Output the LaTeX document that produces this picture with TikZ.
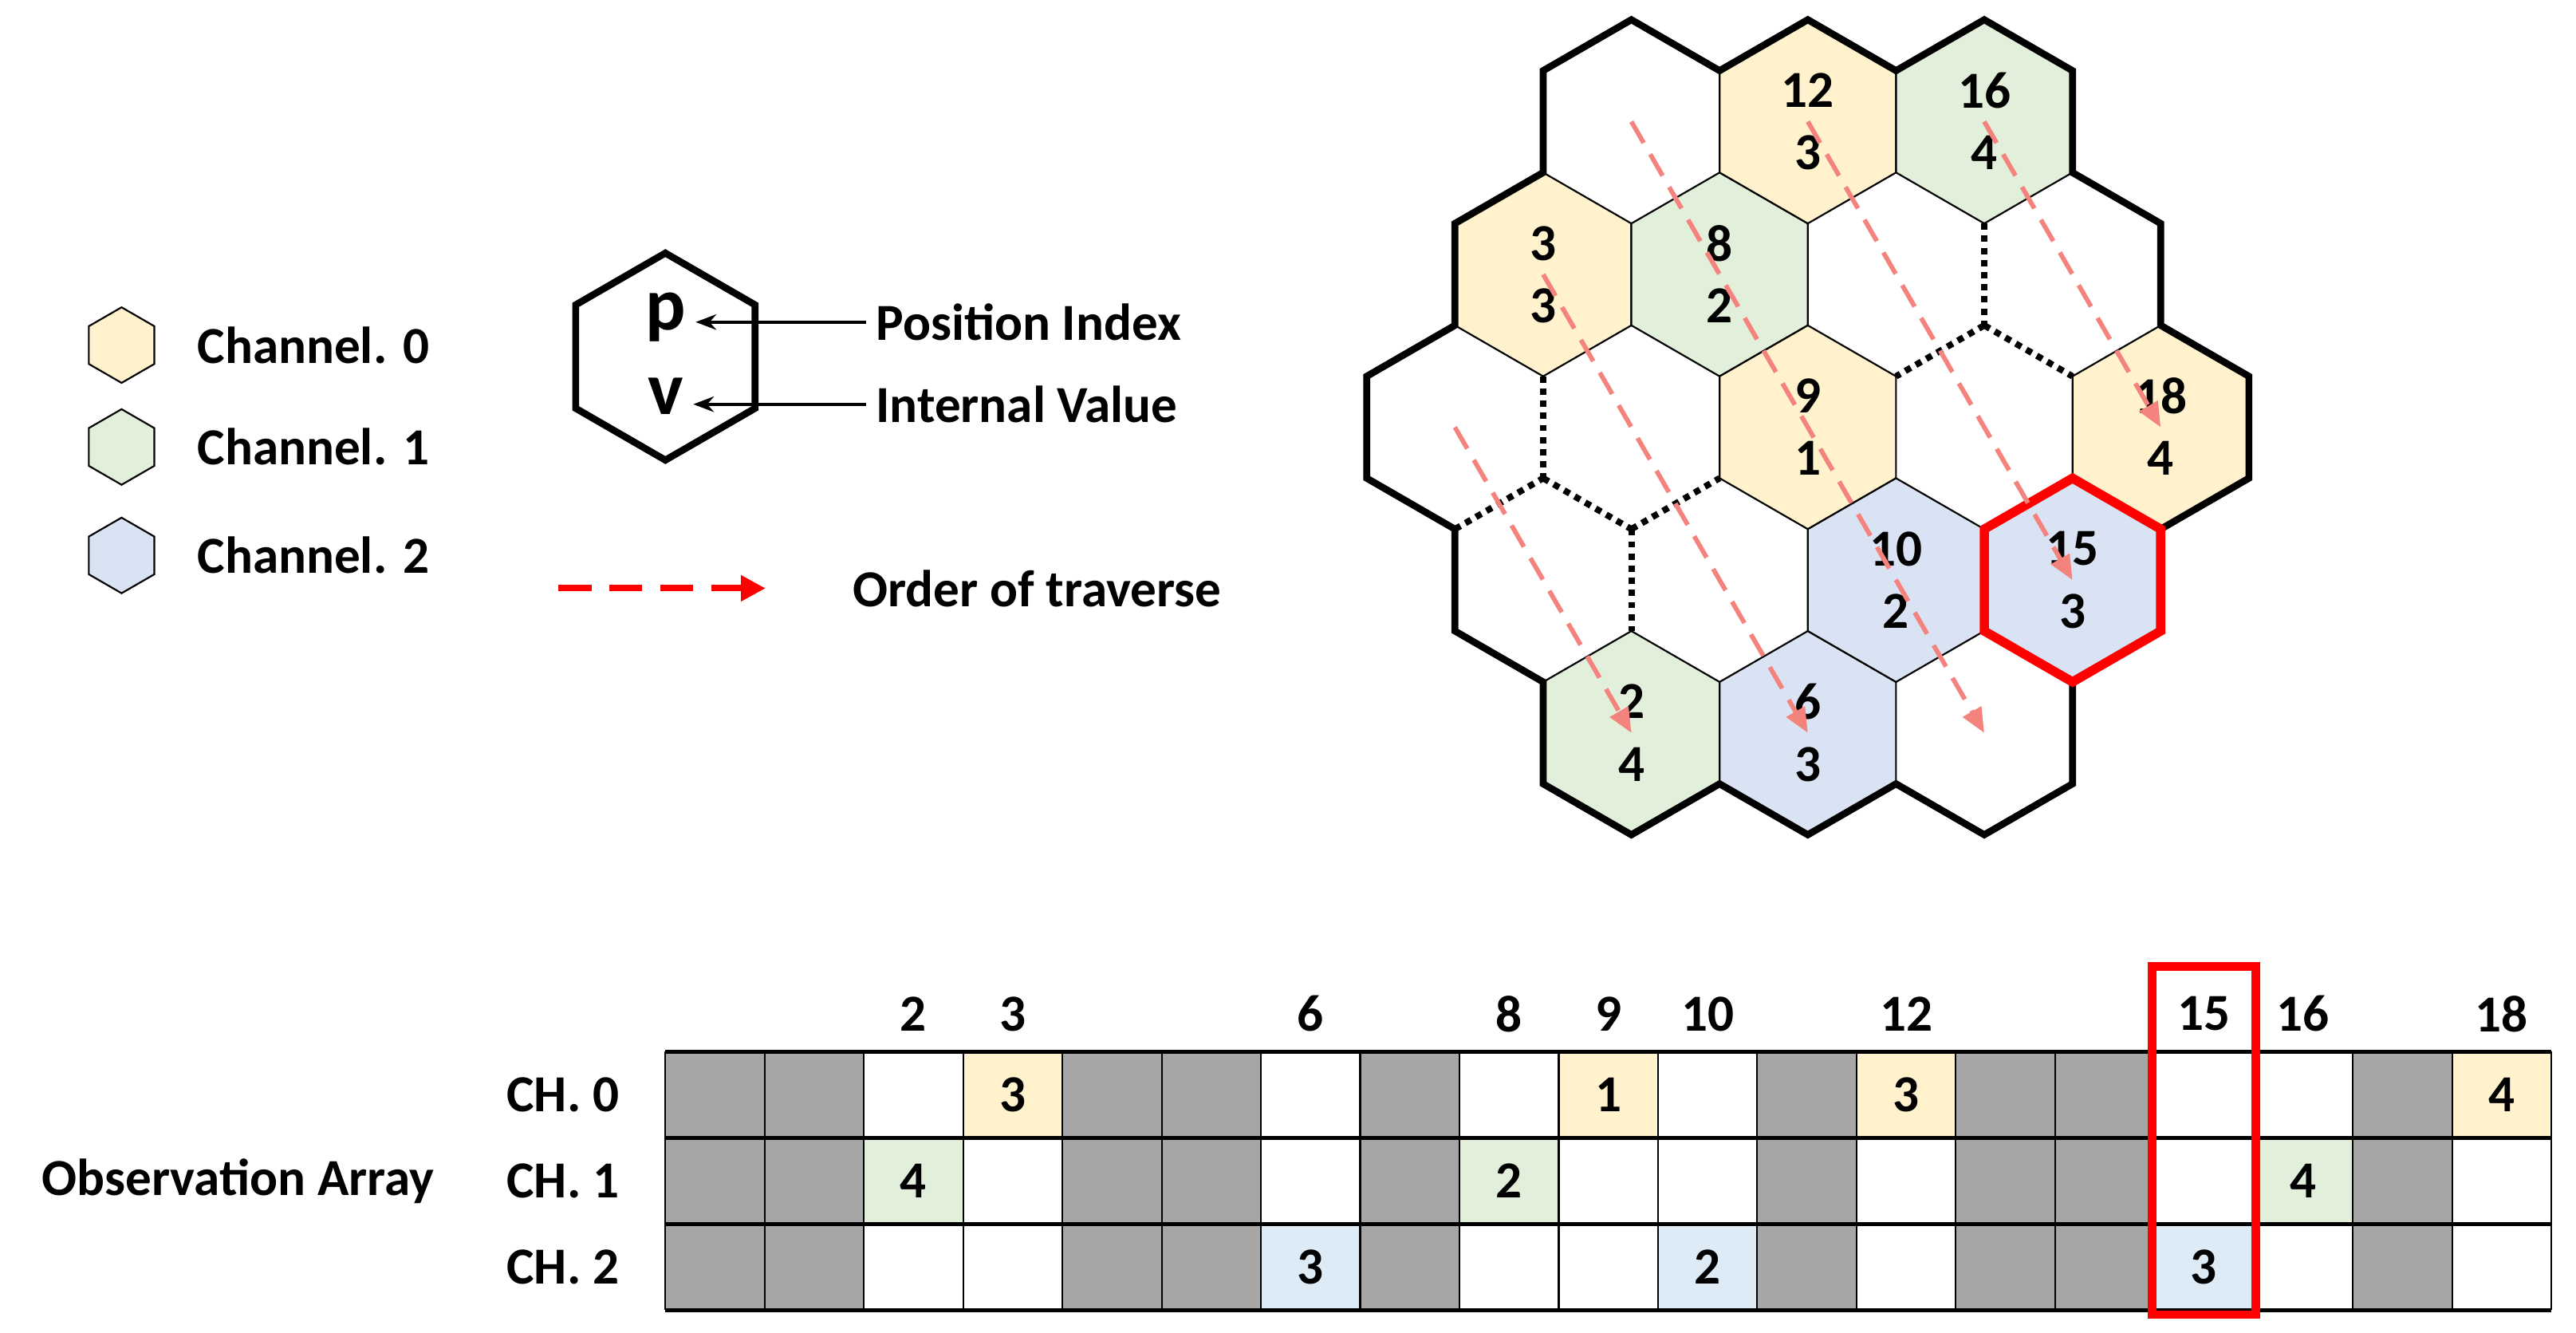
\documentclass[tikz,border=0pt]{standalone}
\usepackage{fontspec}
\setmainfont{Carlito}
\usetikzlibrary{arrows.meta,positioning}
\definecolor{chyel}{HTML}{FFF2CC}
\definecolor{chgrn}{HTML}{E2EFDA}
\definecolor{chblu}{HTML}{DAE3F3}
\definecolor{tblblu}{HTML}{DDEBF7}
\definecolor{cellgray}{HTML}{A6A6A6}
\definecolor{travred}{HTML}{F4837D}
\newcommand{\hexcell}[3]{({#1},{#2-#3}) -- ({#1+0.866*#3},{#2-0.5*#3}) -- ({#1+0.866*#3},{#2+0.5*#3}) -- ({#1},{#2+#3}) -- ({#1-0.866*#3},{#2+0.5*#3}) -- ({#1-0.866*#3},{#2-0.5*#3}) -- cycle}
\begin{document}
\begin{tikzpicture}[x=0.02cm, y=-0.02cm, every node/.style={font=\fontsize{18}{20}\selectfont\bfseries},
    thinhex/.style={draw=black, line width=0.6pt},
    wallhex/.style={line width=2.4pt, line join=miter},
    openedge/.style={line width=2.2pt, dotted},
    trav/.style={travred, line width=1.6pt, dash pattern=on 0.3cm off 0.16cm, -{Triangle[length=0.3cm,width=0.25cm]}}]
    \path[fill=white] (0,0) rectangle (1568,811);

    % Hex centres, by position index
    \foreach \p/\x/\y in {0/885.6/260, 1/939.3/353, 2/993/446, 3/939.3/167, 4/993/260, 5/1046.7/353,
                          6/1100.4/446, 7/993/74, 8/1046.7/167, 9/1100.4/260, 10/1154.1/353, 11/1207.8/446,
                          12/1100.4/74, 13/1154.1/167, 14/1207.8/260, 15/1261.5/353, 16/1207.8/74,
                          17/1261.5/167, 18/1315.2/260}
        \coordinate (c\p) at (\x,\y);

    % Occupied cells
    \foreach \x/\y/\col in {993/446/chgrn, 939.3/167/chyel, 1100.4/446/chblu, 1046.7/167/chgrn,
                            1100.4/260/chyel, 1154.1/353/chblu, 1100.4/74/chyel, 1261.5/353/chblu,
                            1207.8/74/chgrn, 1315.2/260/chyel}
        \draw[thinhex, fill=\col] \hexcell{\x}{\y}{62};

    % Edges between empty cells
    \draw[openedge] (1207.8,136) -- (1207.8,198);
    \draw[openedge] (1207.8,198) -- (1154.1,229);
    \draw[openedge] (1207.8,198) -- (1261.5,229);
    \draw[openedge] (939.3,229) -- (939.3,291);
    \draw[openedge] (885.6,322) -- (939.3,291);
    \draw[openedge] (939.3,291) -- (993,322);
    \draw[openedge] (993,322) -- (993,384);
    \draw[openedge] (993,322) -- (1046.7,291);

    % Outer wall
    \draw[wallhex] (993,12) -- (1046.7,43) -- (1100.4,12) -- (1154.1,43) -- (1207.8,12) -- (1261.5,43)
        -- (1261.5,105) -- (1315.2,136) -- (1315.2,198) -- (1368.9,229) -- (1368.9,291) -- (1315.2,322)
        -- (1315.2,384) -- (1261.5,415) -- (1261.5,477) -- (1207.8,508) -- (1154.1,477) -- (1100.4,508)
        -- (1046.7,477) -- (993,508) -- (939.3,477) -- (939.3,415) -- (885.6,384) -- (885.6,322)
        -- (831.9,291) -- (831.9,229) -- (885.6,198) -- (885.6,136) -- (939.3,105) -- (939.3,43) -- cycle;

    % Current cell
    \draw[red, line width=3.2pt, line join=miter] \hexcell{1261.5}{353}{62};

    % Cell labels
    \foreach \p/\v in {2/4, 3/3, 6/3, 8/2, 9/1, 10/2, 12/3, 15/3, 16/4, 18/4} {
        \node (p\p) at ([yshift=0.38cm]c\p) {\p};
        \node (v\p) at ([yshift=-0.38cm]c\p) {\v};
    }

    % Traverse order
    \draw[trav] (c0) -- (c2);
    \draw[trav] (c3) -- (c6);
    \draw[trav] (c7) -- (c11);
    \draw[trav] (c12) -- (c15);
    \draw[trav] (c16) -- (c18);

    % Legend
    \foreach \y/\col [count=\i from 0] in {210/chyel, 272/chgrn, 338/chblu} {
        \draw[thinhex, fill=\col] \hexcell{74}{\y}{23};
        \node[anchor=west] (ch\i) at (114,\y) {Channel. \i};
    }
    \draw[line width=2.4pt] \hexcell{405}{217}{63};
    \node[font=\fontsize{26}{28}\selectfont\bfseries] (pk) at (405,193) {p};
    \node[font=\fontsize{26}{28}\selectfont\bfseries] (vk) at (405,241) {v};
    \node[anchor=west] (posidx) at (527,196) {Position Index};
    \node[anchor=west] (intval) at (527,246) {Internal Value};
    \draw[-{Stealth[length=0.25cm]}, line width=1.2pt] (posidx.west) -- (pk.east |- posidx.west);
    \draw[-{Stealth[length=0.25cm]}, line width=1.2pt] (intval.west) -- (vk.east |- intval.west);
    \coordinate (ts) at (340,358);
    \coordinate (te) at (466,358);
    \draw[red, line width=2.2pt, dash pattern=on 0.4cm off 0.22cm, -{Triangle[length=0.3cm,width=0.3cm]}] (ts) -- (te);
    \node[anchor=west] (trv) at (513,358) {Order of traverse};

    % Observation array
    \foreach \c in {0,1,4,5,7,11,13,14,17}
        \fill[cellgray] ({405+60.42*\c},640) rectangle ({405+60.42*(\c+1)},797.2);
    \foreach \c/\r/\col/\v in {3/0/chyel/3, 9/0/chyel/1, 12/0/chyel/3, 18/0/chyel/4,
                               2/1/chgrn/4, 8/1/chgrn/2, 16/1/chgrn/4,
                               6/2/tblblu/3, 10/2/tblblu/2, 15/2/tblblu/3} {
        \fill[\col] ({405+60.42*\c},{640+52.4*\r}) rectangle ({405+60.42*(\c+1)},{640+52.4*(\r+1)});
        \node (cell\c-\r) at ({405+60.42*(\c+0.5)},{640+52.4*(\r+0.5)}) {\v};
    }
    \foreach \c in {0,...,19}
        \draw[line width=0.6pt] ({405+60.42*\c},640) -- ({405+60.42*\c},797.2);
    \foreach \r in {0,...,3}
        \draw[line width=1.4pt] (405,{640+52.4*\r}) -- (1553,{640+52.4*\r});
    \foreach \c in {2,3,6,8,9,10,12,15,16,18}
        \node (hd\c) at ({405+60.42*(\c+0.5)},617) {\c};
    \foreach \r in {0,1,2}
        \node[anchor=east] (row\r) at (383,{640+52.4*(\r+0.5)}) {CH. \r};
    \node (obs) at (145,719) {Observation Array};
    \draw[red, line width=3pt] (1310,588) rectangle (1373,800);
\end{tikzpicture}
\end{document}
